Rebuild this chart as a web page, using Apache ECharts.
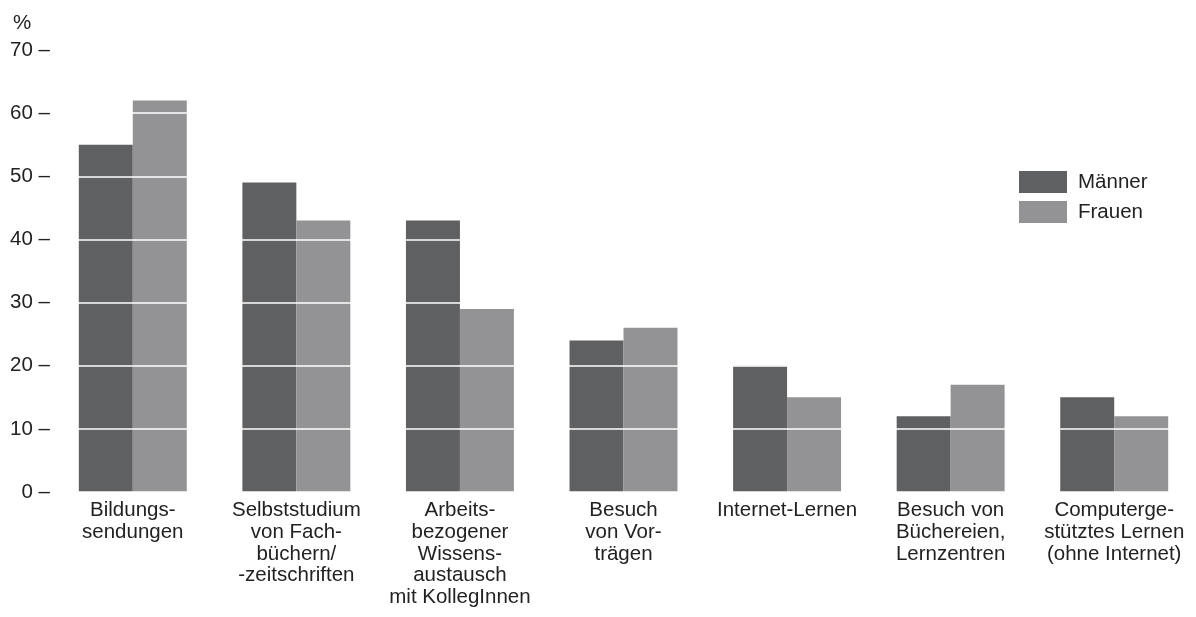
<!DOCTYPE html>
<html>
<head>
<meta charset="utf-8">
<script src="https://cdn.jsdelivr.net/npm/echarts@6/dist/echarts.min.js"></script>
<style>
html,body{margin:0;padding:0;background:#fff;}
#chart{width:1196px;height:617px;}
</style>
</head>
<body>
<div id="chart"></div>
<script>
const categories = [
  'Bildungs-\nsendungen',
  'Selbststudium\nvon Fach-\nbüchern/\n-zeitschriften',
  'Arbeits-\nbezogener\nWissens-\naustausch\nmit KollegInnen',
  'Besuch\nvon Vor-\nträgen',
  'Internet-Lernen',
  'Besuch von\nBüchereien,\nLernzentren',
  'Computerge-\nstütztes Lernen\n(ohne Internet)'
];
const maenner = [55, 49, 43, 24, 20, 12, 15];
const frauen = [62, 43, 29, 26, 15, 17, 12];
const seriesNames = ['Männer', 'Frauen'];

const chart = echarts.init(document.getElementById('chart'));
const font = 'Liberation Sans, Arial, Helvetica, sans-serif';
chart.setOption({
  animation: false,
  textStyle: { fontFamily: font },
  title: {
    text: '%', left: 8, top: 8,
    textStyle: { fontFamily: font, fontSize: 20.5, fontWeight: 'normal', color: '#222' }
  },
  legend: {
    data: seriesNames,
    orient: 'vertical',
    left: 1014, top: 166,
    z: 20,
    itemWidth: 48, itemHeight: 22,
    itemGap: 8,
    icon: 'rect',
    textStyle: { fontFamily: font, fontSize: 20.5, color: '#222', padding: [0, 0, 0, 6] }
  },
  grid: { left: 51, right: -1, top: 50, bottom: 125, containLabel: false },
  xAxis: {
    type: 'category',
    data: categories,
    axisLine: { show: false },
    axisTick: { show: false },
    axisLabel: {
      interval: 0, margin: 8, fontSize: 20.5, lineHeight: 21.6, color: '#222', fontFamily: font
    }
  },
  yAxis: {
    type: 'value',
    min: 0, max: 70, interval: 10,
    z: 5,
    axisLine: { show: false },
    axisTick: { show: false },
    axisLabel: { formatter: '{value} –', fontSize: 20.5, color: '#222', margin: 1, fontFamily: font },
    splitLine: { show: true, lineStyle: { color: '#ffffff', width: 1.5 } }
  },
  series: [
    { name: seriesNames[0], type: 'bar', data: maenner, barGap: '0%', barCategoryGap: '34%',
      itemStyle: { color: '#5f6062' } },
    { name: seriesNames[1], type: 'bar', data: frauen,
      itemStyle: { color: '#939396' } }
  ]
});
</script>
</body>
</html>
